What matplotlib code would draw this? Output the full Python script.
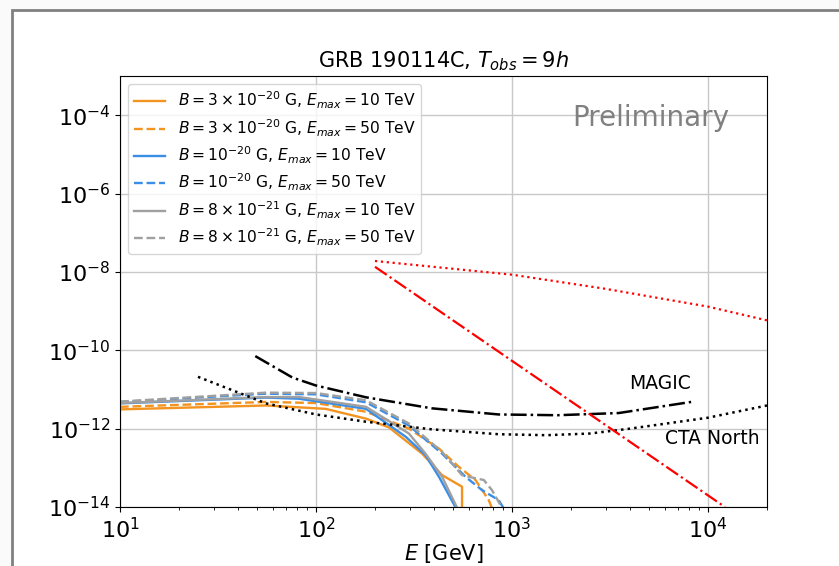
import numpy as np
import matplotlib.pyplot as plt
from matplotlib.patches import Rectangle
from matplotlib.ticker import LogLocator, NullLocator

# --- datos (E en GeV, flujo) ---
E_or_10 = [10, 55.7, 112, 180, 236, 348, 440, 556, 556]
F_or_10 = [3.1e-12, 3.9e-12, 3.2e-12, 1.8e-12, 1.07e-12, 2.3e-13, 6.5e-14, 3.3e-14, 1e-15]

E_or_50 = [10, 55.7, 100, 180, 298, 424, 535, 651, 761, 800]
F_or_50 = [3.6e-12, 4.8e-12, 4.5e-12, 2.7e-12, 1.0e-12, 3.1e-13, 1.06e-13, 4.9e-14, 1.5e-14, 8e-15]

E_bl_10 = [10, 55.7, 82, 180, 287, 362, 424, 520]
F_bl_10 = [4.4e-12, 6.2e-12, 5.8e-12, 3.2e-12, 6.2e-13, 2.1e-13, 5.9e-14, 9e-15]

E_bl_50 = [10, 55.7, 100, 180, 298, 440, 579, 703, 855, 910]
F_bl_50 = [4.8e-12, 7.8e-12, 7.5e-12, 4.7e-12, 1.2e-12, 2.3e-13, 5.9e-14, 2.7e-14, 1.5e-14, 9e-15]

E_gr_10 = [10, 55.7, 82, 180, 298, 362, 440, 528]
F_gr_10 = [4.5e-12, 6.4e-12, 6.4e-12, 3.6e-12, 7.5e-13, 2.3e-13, 5.9e-14, 9e-15]

E_gr_50 = [10, 55.7, 100, 180, 298, 440, 556, 651, 718, 790, 895]
F_gr_50 = [4.9e-12, 8.3e-12, 8.1e-12, 5.3e-12, 1.35e-12, 2.55e-13, 6.5e-14, 5.4e-14, 4.9e-14, 2.7e-14, 9e-15]

E_magic = [49, 76, 100, 180, 390, 855, 1700, 3500, 8200]
F_magic = [7.1e-11, 2.0e-11, 1.26e-11, 6.3e-12, 3.3e-12, 2.3e-12, 2.2e-12, 2.5e-12, 4.8e-12]

E_cta = [25, 55.7, 100, 180, 390, 855, 1500, 2500, 4000, 10000, 20000]
F_cta = [2.1e-11, 4.4e-12, 2.3e-12, 1.5e-12, 9.6e-13, 7.2e-13, 6.8e-13, 7.5e-13, 1.0e-12, 1.9e-12, 3.9e-12]

E_red_dot = [200, 1000, 3000, 10000, 20000]
F_red_dot = [1.9e-8, 8.5e-9, 3.7e-9, 1.3e-9, 5.8e-10]

E_red_dd = [200, 12200]
F_red_dd = [1.35e-8, 1e-14]

naranja = '#f39320'
azul = '#3a8ee6'
gris = '#a0a0a0'

fig = plt.figure(figsize=(8.39, 5.66), dpi=100)
fig.set_facecolor('#fafafa')
# marco de la captura
fig.patches.append(Rectangle((12/839, -0.1), 1.2, 1.1 - 10/566, transform=fig.transFigure,
                             facecolor='white', edgecolor='#808080', lw=2, zorder=-10))

ax = fig.add_axes([120/839, 59/566, 647/839, 431/566])
ax.set_xscale('log')
ax.set_yscale('log')

ax.plot(E_or_10, F_or_10, '-', color=naranja, lw=1.7,
        label=r'$B = 3\times10^{-20}$ G, $E_{max} = 10$ TeV')
ax.plot(E_or_50, F_or_50, '--', color=naranja, lw=1.7,
        label=r'$B = 3\times10^{-20}$ G, $E_{max} = 50$ TeV')
ax.plot(E_bl_10, F_bl_10, '-', color=azul, lw=1.7,
        label=r'$B = 10^{-20}$ G, $E_{max} = 10$ TeV')
ax.plot(E_bl_50, F_bl_50, '--', color=azul, lw=1.7,
        label=r'$B = 10^{-20}$ G, $E_{max} = 50$ TeV')
ax.plot(E_gr_10, F_gr_10, '-', color=gris, lw=1.7,
        label=r'$B = 8\times10^{-21}$ G, $E_{max} = 10$ TeV')
ax.plot(E_gr_50, F_gr_50, '--', color=gris, lw=1.7,
        label=r'$B = 8\times10^{-21}$ G, $E_{max} = 50$ TeV')

ax.plot(E_magic, F_magic, '-.', color='black', lw=1.8)
ax.plot(E_cta, F_cta, ':', color='black', lw=1.8)
ax.plot(E_red_dot, F_red_dot, ':', color='red', lw=1.6)
ax.plot(E_red_dd, F_red_dd, '-.', color='red', lw=1.6)

ax.text(8200, 1.45e-11, 'MAGIC', fontsize=13.5, ha='right', va='center')
ax.text(18400, 5.7e-13, 'CTA North', fontsize=13.5, ha='right', va='center')
ax.text(0.82, 0.903, 'Preliminary', transform=ax.transAxes, fontsize=20,
        color='gray', ha='center', va='center')

ax.set_xlim(10, 2e4)
ax.set_ylim(1e-14, 1e-3)
ax.set_yticks([1e-14, 1e-12, 1e-10, 1e-8, 1e-6, 1e-4])
ax.yaxis.set_minor_locator(NullLocator())
ax.xaxis.set_major_locator(LogLocator(base=10))
ax.tick_params(labelsize=16)
ax.grid(True, which='major', color='#c8c8c8', lw=1)

ax.set_title(r'GRB 190114C, $T_{obs} = 9h$', fontsize=15)
ax.set_xlabel(r'$E$ [GeV]', fontsize=15, labelpad=0)
ax.legend(loc='upper left', fontsize=11.2, labelspacing=0.38)

fig.savefig('out.png', dpi=100, facecolor=fig.get_facecolor())
